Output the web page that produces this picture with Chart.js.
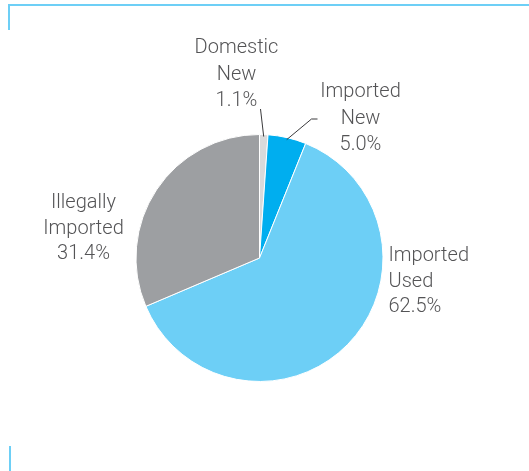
<!DOCTYPE html>
<html>
<head>
<meta charset="utf-8">
<script src="https://cdn.jsdelivr.net/npm/chart.js@4.4.1/dist/chart.umd.min.js"></script>
<style>
  html, body { margin: 0; padding: 0; background: #fff; }
  #wrap { position: relative; width: 529px; height: 471px; }
  .rule { position: absolute; background: #6dcff6; }
</style>
</head>
<body>
<div id="wrap">
  <canvas id="pieChart" width="529" height="471"></canvas>
  <div class="rule" style="left:8px; top:4px; width:521px; height:2px;"></div>
  <div class="rule" style="left:8px; top:4px; width:2px; height:26px;"></div>
  <div class="rule" style="left:9px; top:446px; width:2px; height:25px;"></div>
</div>
<script>
// podíly vozového parku podle původu (%)
const categories = ["Domestic New", "Imported New", "Imported Used", "Illegally Imported"];
const shares = [1.1, 5.0, 62.5, 31.4];
const labelLines = [
  ["Domestic", "New", "1.1%"],
  ["Imported", "New", "5.0%"],
  ["Imported", "Used", "62.5%"],
  ["Illegally", "Imported", "31.4%"],
];
const sliceColors = ["#d9dadb", "#00aeef", "#6dcff6", "#9d9fa2"];

// umístění popisků vůči středu koláče (px), zarovnání a vodicí čára
const labelPlacement = [
  { dx: -23, dy: -210, align: "center", step: 26.5, leader: [[1, -149]] },
  { dx: 101, dy: -166, align: "center", step: 26.5, leader: [[52, -139], [58, -139]] },
  { dx: 129, dy: -2, align: "left", step: 25.5 },
  { dx: -176, dy: -55, align: "center", step: 25.5 },
];

const sliceLabels = {
  id: "sliceLabels",
  afterDatasetsDraw(chart) {
    const ctx = chart.ctx;
    const arcs = chart.getDatasetMeta(0).data;
    ctx.save();
    ctx.font = "300 20px Roboto, 'Open Sans', sans-serif";
    ctx.fillStyle = "#545456";
    ctx.textBaseline = "middle";
    arcs.forEach((arc, i) => {
      const p = labelPlacement[i];
      const cx = arc.x, cy = arc.y;
      if (p.leader) {
        const mid = (arc.startAngle + arc.endAngle) / 2;
        const r = arc.outerRadius - 2;
        ctx.beginPath();
        ctx.moveTo(cx + Math.cos(mid) * r, cy + Math.sin(mid) * r);
        p.leader.forEach(([x, y]) => ctx.lineTo(cx + x, cy + y));
        ctx.strokeStyle = "#3a3a3c";
        ctx.lineWidth = 1;
        ctx.stroke();
      }
      ctx.textAlign = p.align;
      labelLines[i].forEach((line, k) => {
        ctx.fillText(line, cx + p.dx, cy + p.dy + k * p.step);
      });
    });
    ctx.restore();
  },
};

new Chart(document.getElementById("pieChart"), {
  type: "pie",
  data: {
    labels: categories,
    datasets: [
      {
        data: shares,
        backgroundColor: sliceColors,
        borderColor: "#ffffff",
        borderWidth: 1,
      },
    ],
  },
  options: {
    responsive: false,
    animation: false,
    layout: { padding: { left: 135, right: 145, top: 134, bottom: 89 } },
    plugins: {
      legend: { display: false },
      tooltip: { enabled: false },
    },
  },
  plugins: [sliceLabels],
});
</script>
</body>
</html>
